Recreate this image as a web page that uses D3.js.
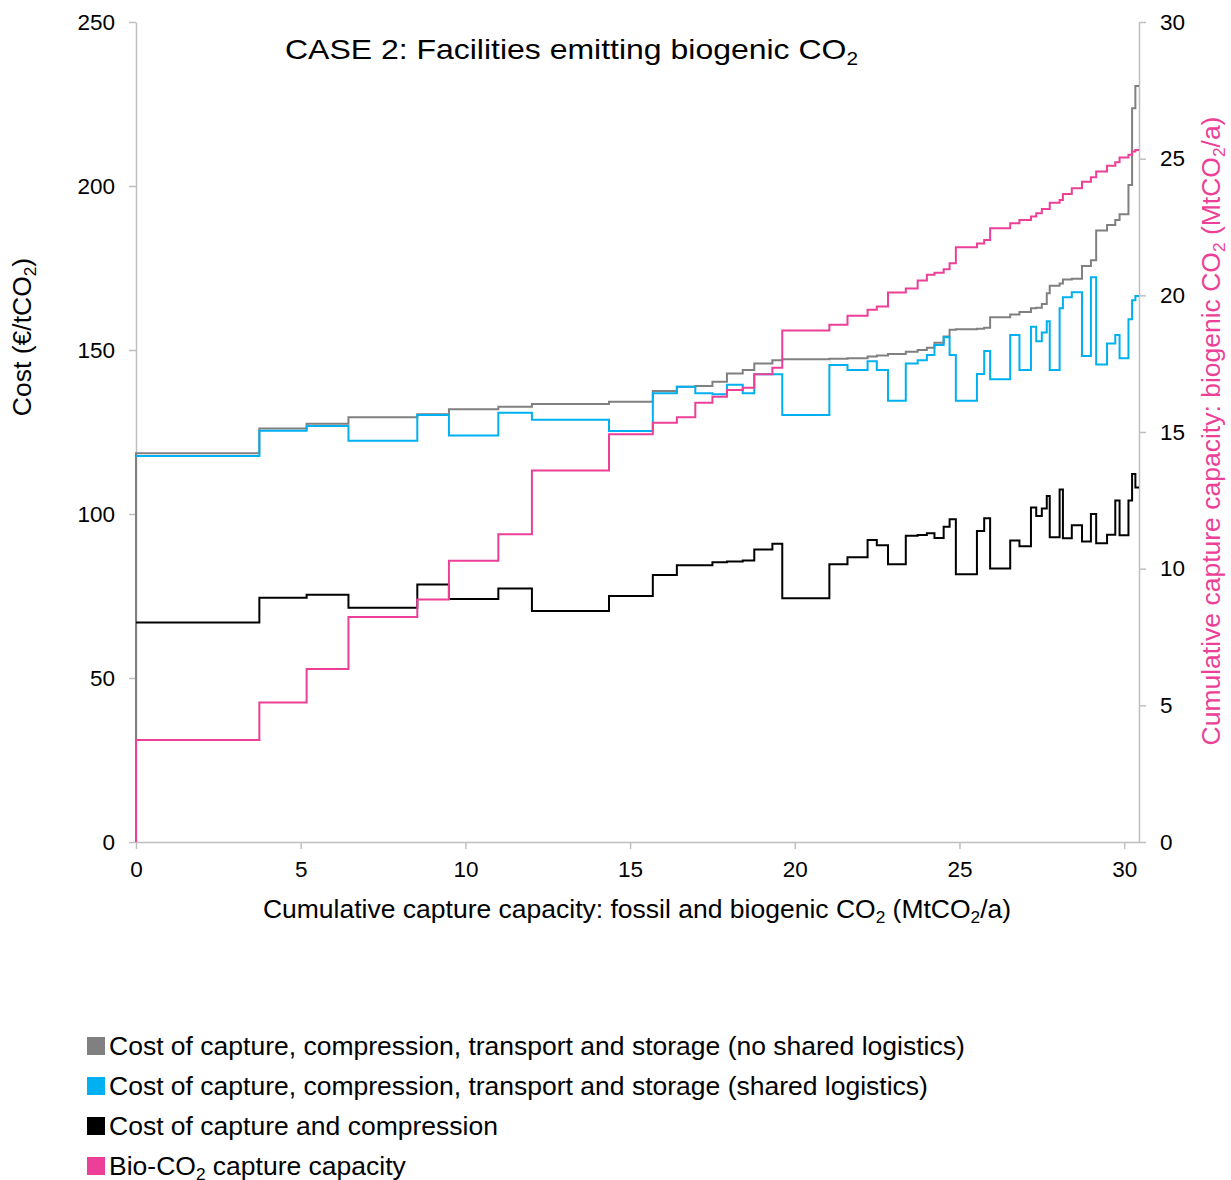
<!DOCTYPE html>
<html>
<head>
<meta charset="utf-8">
<script src="https://cdn.jsdelivr.net/npm/d3@7"></script>
<style>
  body { margin: 0; background: #fff; }
  svg { display: block; font-family: "Liberation Sans", Arial, sans-serif; }
  .axis path, .axis line { stroke: #bfbfbf; stroke-width: 1.5; }
  .axis text { fill: #000; font-size: 22.5px; font-family: "Liberation Sans", Arial, sans-serif; }
</style>
</head>
<body>
<div id="chart"></div>
<script>
// segment start positions on the cumulative capacity axis (MtCO2/a)
const capStart = [0, 3.745, 5.18, 6.45, 8.54, 9.50, 11.0, 12.02, 14.36, 15.69,
    16.42, 16.98, 17.50, 17.94, 18.42, 18.77, 19.32, 19.62, 21.05, 21.60,
    22.21, 22.49, 22.83, 23.37, 23.73, 24.01, 24.24, 24.52, 24.70, 24.89,
    25.53, 25.75, 25.93, 26.54, 26.82, 27.17, 27.33, 27.50, 27.65, 27.74,
    28.04, 28.14, 28.41, 28.72, 28.99, 29.15, 29.48, 29.73, 29.86, 30.13,
    30.24, 30.34];
const capEnd = 30.45;

// cost, no shared logistics (€/tCO2)
const costNoShared = [118.5, 126.1, 127.5, 129.5, 130.4, 131.9, 132.7, 133.5, 134.2, 137.5,
    138.8, 139.0, 140.3, 142.8, 143.9, 145.9, 146.9, 147.2, 147.3, 147.5,
    148.0, 148.3, 148.8, 149.5, 150.0, 150.7, 152.2, 154.1, 156.2, 156.3,
    156.5, 156.8, 160.0, 160.8, 161.6, 162.7, 162.9, 164.0, 167.3, 169.6,
    170.3, 171.5, 171.7, 175.6, 177.4, 186.4, 188.1, 189.6, 191.4, 200.3,
    223.7, 230.5];

// cost, shared logistics
const costShared = [117.7, 125.4, 126.8, 122.3, 130.2, 123.9, 130.9, 128.7, 125.3, 136.8,
    138.8, 136.8, 136.5, 139.4, 136.8, 142.6, 142.6, 130.2, 145.4, 143.9,
    146.6, 143.9, 134.5, 145.9, 146.9, 148.5, 151.5, 153.9, 148.5, 134.5,
    142.7, 149.7, 141.1, 154.6, 143.9, 157.1, 152.7, 155.3, 158.8, 143.9,
    162.7, 166.1, 167.6, 148.2, 172.2, 145.6, 152.0, 154.6, 147.5, 159.4,
    165.2, 166.5];

// cost of capture and compression
const costCapture = [66.9, 74.5, 75.4, 71.4, 78.5, 74.1, 77.3, 70.4, 75.0, 81.4,
    84.4, 84.4, 85.3, 85.5, 85.8, 89.2, 90.9, 74.3, 84.7, 86.8,
    92.1, 90.5, 84.7, 93.4, 93.6, 94.1, 92.7, 96.1, 98.4, 81.6,
    94.8, 98.7, 83.4, 91.9, 90.2, 102.0, 99.4, 101.7, 105.5, 92.9,
    107.5, 92.6, 96.6, 91.6, 100.0, 91.1, 93.7, 104.1, 93.5, 104.1,
    112.2, 108.1];

// cumulative bio-CO2 capture capacity (MtCO2/a), right axis
const bioCapacity = [3.73, 5.10, 6.33, 8.23, 8.87, 10.29, 11.26, 13.59, 14.92, 15.34,
    15.54, 16.07, 16.29, 16.54, 16.62, 17.11, 17.35, 18.71, 18.92, 19.25,
    19.47, 19.59, 20.10, 20.25, 20.54, 20.75, 20.83, 20.95, 21.17, 21.76,
    21.90, 22.02, 22.45, 22.64, 22.76, 22.88, 23.00, 23.16, 23.16, 23.39,
    23.49, 23.71, 23.92, 24.16, 24.32, 24.53, 24.74, 24.87, 25.04, 25.14,
    25.26, 25.32];

const xTicks = [0, 5, 10, 15, 20, 25, 30];
const yLeftTicks = [0, 50, 100, 150, 200, 250];
const yRightTicks = [0, 5, 10, 15, 20, 25, 30];

const legendItems = [
    {label: [["Cost of capture, compression, transport and storage (no shared logistics)"]], color: "#808080"},
    {label: [["Cost of capture, compression, transport and storage (shared logistics)"]], color: "#00b0f0"},
    {label: [["Cost of capture and compression"]], color: "#000000"},
    {label: [["Bio-CO"], ["2", "sub"], [" capture capacity"]], color: "#ec3f97"}
];

const width = 1231, height = 1180;
const margin = {top: 22, right: 92, bottom: 338, left: 136};
const pink = "#ec3f97";
const labelSize = 26.5;

const svg = d3.select("#chart").append("svg")
    .attr("width", width)
    .attr("height", height);

const x = d3.scaleLinear().domain([0, capEnd]).range([margin.left, width - margin.right]);
const yCost = d3.scaleLinear().domain([0, 250]).range([height - margin.bottom, margin.top]);
const yCap = d3.scaleLinear().domain([0, 30]).range([height - margin.bottom, margin.top]);

// axes
svg.append("g")
    .attr("class", "axis")
    .attr("transform", `translate(0,${height - margin.bottom})`)
    .call(d3.axisBottom(x).tickValues(xTicks).tickSize(7).tickSizeOuter(0).tickPadding(12));

svg.append("g")
    .attr("class", "axis")
    .attr("transform", `translate(${margin.left},0)`)
    .call(d3.axisLeft(yCost).tickValues(yLeftTicks).tickSize(7).tickSizeOuter(0).tickPadding(14));

svg.append("g")
    .attr("class", "axis")
    .attr("transform", `translate(${width - margin.right},0)`)
    .call(d3.axisRight(yCap).tickValues(yRightTicks).tickSize(7).tickSizeOuter(0).tickPadding(14));

// text with subscripts
function richText(g, parts, size) {
    parts.forEach(p => {
        const t = g.append("tspan").text(p[0]);
        if (p[1] === "sub") {
            t.attr("font-size", size * 0.65).attr("dy", size * 0.2);
        } else if (g.selectAll("tspan").size() > 1) {
            t.attr("dy", -size * 0.2);
        }
    });
}

// step lines
function stepPoints(values, fromZero) {
    const pts = capStart.map((c, i) => [c, values[i]]);
    pts.push([capEnd, values[values.length - 1]]);
    if (fromZero) pts.unshift([0, 0]);
    return pts;
}

const lineCost = d3.line().x(d => x(d[0])).y(d => yCost(d[1])).curve(d3.curveStepAfter);
const lineCap = d3.line().x(d => x(d[0])).y(d => yCap(d[1])).curve(d3.curveStepAfter);

svg.append("path")
    .datum(stepPoints(costNoShared, true))
    .attr("fill", "none").attr("stroke", "#808080").attr("stroke-width", 2)
    .attr("d", lineCost);

svg.append("path")
    .datum(stepPoints(costShared, false))
    .attr("fill", "none").attr("stroke", "#00b0f0").attr("stroke-width", 2)
    .attr("d", lineCost);

svg.append("path")
    .datum(stepPoints(costCapture, false))
    .attr("fill", "none").attr("stroke", "#000").attr("stroke-width", 2)
    .attr("d", lineCost);

svg.append("path")
    .datum(stepPoints(bioCapacity, true))
    .attr("fill", "none").attr("stroke", pink).attr("stroke-width", 2)
    .attr("d", lineCap);

// titles
const title = svg.append("text")
    .attr("x", 285).attr("y", 59)
    .attr("font-size", 28).attr("fill", "#000")
    .attr("textLength", 573).attr("lengthAdjust", "spacingAndGlyphs");
richText(title, [["CASE 2: Facilities emitting biogenic CO"], ["2", "sub"]], 28);

const xTitle = svg.append("text")
    .attr("x", 637).attr("y", 918)
    .attr("text-anchor", "middle")
    .attr("font-size", labelSize).attr("fill", "#000");
richText(xTitle, [["Cumulative capture capacity: fossil and biogenic CO"], ["2", "sub"], [" (MtCO"], ["2", "sub"], ["/a)"]], labelSize);

const yTitle = svg.append("text")
    .attr("transform", "translate(31,337) rotate(-90)")
    .attr("text-anchor", "middle")
    .attr("font-size", labelSize).attr("fill", "#000");
richText(yTitle, [["Cost (€/tCO"], ["2", "sub"], [")"]], labelSize);

const y2Title = svg.append("text")
    .attr("transform", "translate(1220,431) rotate(-90)")
    .attr("text-anchor", "middle")
    .attr("font-size", labelSize).attr("fill", pink);
richText(y2Title, [["Cumulative capture capacity: biogenic CO"], ["2", "sub"], [" (MtCO"], ["2", "sub"], ["/a)"]], labelSize);

// legend
const legend = svg.append("g").attr("transform", "translate(87,1046)");
legendItems.forEach((item, i) => {
    const row = legend.append("g").attr("transform", `translate(0,${i * 40})`);
    row.append("rect")
        .attr("x", 0).attr("y", -9)
        .attr("width", 18).attr("height", 18)
        .attr("fill", item.color);
    const t = row.append("text")
        .attr("x", 22).attr("y", 9)
        .attr("font-size", labelSize).attr("fill", "#000");
    richText(t, item.label, labelSize);
});
</script>
</body>
</html>
